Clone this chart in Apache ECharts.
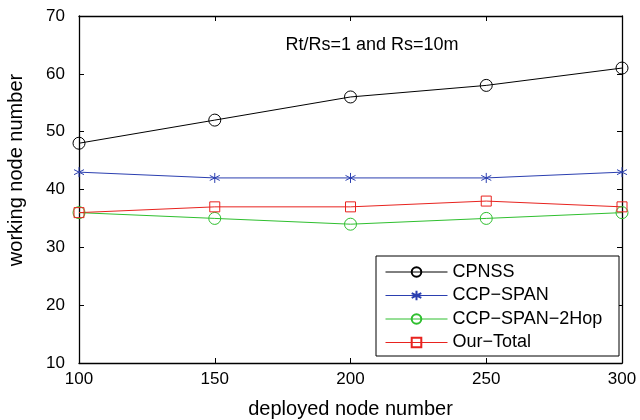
<!DOCTYPE html>
<html><head><meta charset="utf-8">
<script src="https://cdn.jsdelivr.net/npm/echarts@6/dist/echarts.min.js"></script>
<style>html,body{margin:0;padding:0;background:#fff}#c{width:640px;height:420px}</style>
</head><body><div id="c"></div>
<script>
const xValues = [100, 150, 200, 250, 300];
const cpnss = [48, 52, 56, 58, 61];
const ccpSpan = [43, 42, 42, 42, 43];
const ccpSpan2Hop = [36, 35, 34, 35, 36];
const ourTotal = [36, 37, 37, 38, 37];
const seriesNames = ['CPNSS', 'CCP\u2212SPAN', 'CCP\u2212SPAN\u22122Hop', 'Our\u2212Total'];
const annotation = 'Rt/Rs=1 and Rs=10m';
const xTitle = 'deployed node number';
const yTitle = 'working node number';

const font = 'Liberation Sans, Arial, Helvetica, sans-serif';
const pair = arr => xValues.map((x, i) => [x, arr[i]]);
const star = 'path://M0,-1L0,1M-0.87,-0.5L0.87,0.5M-0.87,0.5L0.87,-0.5';

function mk(name, data, color, symbol, size) {
  return {
    name, type: 'line', data: pair(data), symbol, symbolSize: size,
    showAllSymbol: true,
    lineStyle: { color, width: 1 },
    itemStyle: { color: 'rgba(0,0,0,0)', borderColor: color, borderWidth: 1 },
    emphasis: { disabled: true }, animation: false, z: 3
  };
}

const chart = echarts.init(document.getElementById('c'), null, { renderer: 'canvas' });
const axisCommon = {
  axisLine: { show: true, lineStyle: { color: '#000', width: 1.3 } },
  axisTick: { show: true, inside: true, length: 5, lineStyle: { color: '#000' } },
  splitLine: { show: false }
};
chart.setOption({
  animation: false,
  backgroundColor: '#fff',
  grid: { left: 79, top: 16, right: 18, bottom: 57, containLabel: false, outerBoundsMode: 'none' },
  xAxis: [
    Object.assign({ type: 'value', min: 100, max: 300, interval: 50, position: 'bottom',
      axisLabel: { fontFamily: font, fontSize: 17, color: '#000', margin: 8 },
      name: xTitle, nameLocation: 'middle', nameGap: 36,
      nameTextStyle: { fontFamily: font, fontSize: 20, color: '#000' } }, axisCommon),
    Object.assign({ type: 'value', min: 100, max: 300, interval: 50, position: 'top',
      axisLabel: { show: false } }, axisCommon)
  ],
  yAxis: [
    Object.assign({ type: 'value', min: 10, max: 70, interval: 10, position: 'left',
      axisLabel: { fontFamily: font, fontSize: 17, color: '#000', margin: 14 } }, axisCommon),
    Object.assign({ type: 'value', min: 10, max: 70, interval: 10, position: 'right',
      axisLabel: { show: false } }, axisCommon)
  ],
  legend: {
    orient: 'vertical', left: 376, top: 256,
    itemWidth: 62, itemHeight: 12, itemGap: 5.5,
    padding: [7, 11, 4, 9],
    borderWidth: 0, backgroundColor: 'rgba(0,0,0,0)', z: 7,
    lineStyle: { width: 1 },
    textStyle: { fontFamily: font, fontSize: 18, color: '#000', lineHeight: 18 },
    data: seriesNames, selectedMode: false
  },
  graphic: [
    { type: 'rect', z: 6, shape: { x: 376, y: 256, width: 243, height: 100 },
      style: { fill: '#fff', stroke: '#000', lineWidth: 1 } },
    { type: 'text', x: 372, y: 45, z: 6,
      style: { text: annotation, fontFamily: font, fontSize: 18, fill: '#000',
               align: 'center', verticalAlign: 'middle' } },
    { type: 'text', x: 16, y: 170, rotation: Math.PI / 2, z: 6,
      style: { text: yTitle, fontFamily: font, fontSize: 20, fill: '#000',
               align: 'center', verticalAlign: 'middle' } }
  ],
  series: [
    mk(seriesNames[0], cpnss, '#000000', 'circle', 12),
    mk(seriesNames[1], ccpSpan, '#2b3fb0', star, 10),
    mk(seriesNames[2], ccpSpan2Hop, '#2fbf2f', 'circle', 12),
    mk(seriesNames[3], ourTotal, '#e8231f', 'rect', 10)
  ]
});
</script></body></html>
